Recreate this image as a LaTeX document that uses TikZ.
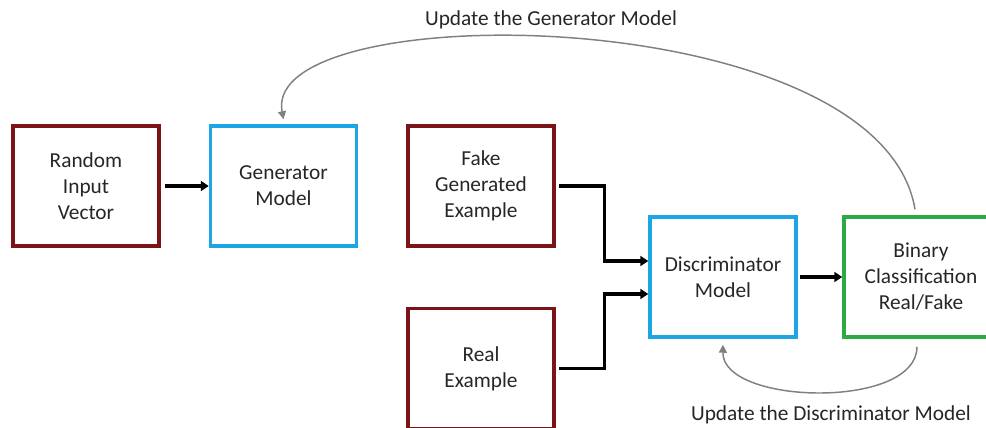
\documentclass[tikz,border=0pt]{standalone}
\usepackage{fontspec}
\setmainfont{Carlito}
\usetikzlibrary{arrows.meta,calc}
\definecolor{dred}{HTML}{7B1418}
\definecolor{lblue}{HTML}{1EA5E3}
\definecolor{cgreen}{HTML}{2EAA44}
\definecolor{agray}{HTML}{808080}
\definecolor{txt}{HTML}{262626}
\begin{document}
\begin{tikzpicture}[x=0.75pt,y=-0.75pt,
  box/.style={draw=#1, line width=2.6pt, minimum width=109.5pt, minimum height=90pt,
    align=center, text=txt, font=\fontsize{16}{19.5}\selectfont, inner sep=0pt},
  barrow/.style={draw=black, line width=2.3pt, -{Triangle[length=6pt,width=7.5pt]}},
  garrow/.style={draw=agray, line width=1.1pt, -{Triangle[length=6pt,width=6pt]}},
  lbl/.style={text=txt, font=\fontsize{16}{19.5}\selectfont, inner sep=0pt}]
\useasboundingbox (0,0) rectangle (986,428);
\node[box=dred] (rand) at (86,186) {Random\\Input\\Vector};
\node[box=lblue] (gen) at (283.5,186) {Generator\\Model};
\node[box=dred] (fake) at (481,186) {Fake\\Generated\\Example};
\node[box=dred] (real) at (481,368.5) {Real\\Example};
\node[box=lblue] (disc) at (723,277) {Discriminator\\Model};
\node[box=cgreen, minimum width=115.5pt] (bin) at (921,277) {Binary\\Classification\\Real/Fake};
\node[lbl] (tlab) at (551,20) {Update the Generator Model};
\node[lbl] (blab) at (831,415) {Update the Discriminator Model};
\draw[barrow, shorten <=3pt] (rand) -- (gen);
\draw[barrow] ([xshift=2.5pt]fake.east) -- ++(45,0) |- ($(disc.west)+(0,-16)$);
\draw[barrow] ([xshift=2.5pt]real.east) -- ++(45,0) |- ($(disc.west)+(0,17)$);
\draw[barrow, shorten <=2pt] (disc.east) -- (disc.east -| bin.west);
\draw[garrow] ($(bin.north)+(-6,-6)$) .. controls (880,0) and (260,-5) .. ($(gen.north)+(0,-5)$);
\draw[garrow] ($(bin.south)+(-4,8)$) .. controls (917,410) and (722,405) .. ($(disc.south)+(0,6)$);
\end{tikzpicture}
\end{document}
